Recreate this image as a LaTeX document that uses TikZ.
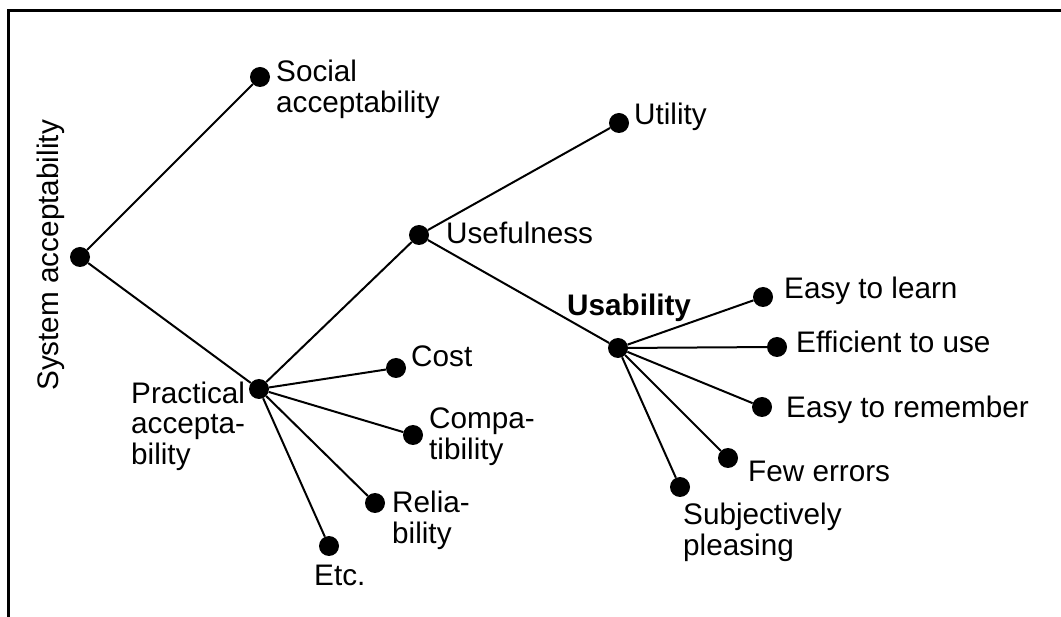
\documentclass[tikz,border=0pt]{standalone}
\usepackage{fontspec}
\setmainfont{Liberation Sans}
\begin{document}
\begin{tikzpicture}[x=1pt,y=-1pt,
  dot/.style={circle,fill=black,inner sep=0pt,minimum size=20pt},
  conn/.style={line width=2pt},
  lbl/.style={anchor=base west,inner sep=0pt,font=\fontsize{29.7}{30}\selectfont},
  frame/.style={line width=3pt}]
\useasboundingbox (0,0) rectangle (1061,617);
% frame (top and left edges)
\coordinate (f1) at (8.7,617);
\coordinate (f2) at (8.7,11);
\coordinate (f3) at (1061,11);
\draw[frame] (f1) -- (f2) -- (f3);
% dots
\node[dot] (root) at (80,257) {};
\node[dot] (social) at (260,77) {};
\node[dot] (practical) at (259,389) {};
\node[dot] (usefulness) at (419,235) {};
\node[dot] (utility) at (619,123) {};
\node[dot] (usability) at (618,348) {};
\node[dot] (learn) at (763,297) {};
\node[dot] (efficient) at (777,347) {};
\node[dot] (remember) at (762,407) {};
\node[dot] (errors) at (728,458) {};
\node[dot] (pleasing) at (680,487) {};
\node[dot] (cost) at (396,368) {};
\node[dot] (compat) at (413,435) {};
\node[dot] (reliab) at (375,503) {};
\node[dot] (etc) at (329,546) {};
% connectors
\draw[conn] (root) -- (social);
\draw[conn] (root) -- (practical);
\draw[conn] (practical) -- (usefulness);
\draw[conn] (usefulness) -- (utility);
\draw[conn] (usefulness) -- (usability);
\draw[conn] (usability) -- (learn);
\draw[conn] (usability) -- (efficient);
\draw[conn] (usability) -- (remember);
\draw[conn] (usability) -- (errors);
\draw[conn] (usability) -- (pleasing);
\draw[conn] (practical) -- (cost);
\draw[conn] (practical) -- (compat);
\draw[conn] (practical) -- (reliab);
\draw[conn] (practical) -- (etc);
% labels
\node[lbl,rotate=90] (tRoot) at (58,391) {System acceptability};
\node[lbl] (tSocial) at (276,82) {\begin{tabular}[t]{@{}l@{}}Social\\acceptability\end{tabular}};
\node[lbl] (tPractical) at (131,404) {\begin{tabular}[t]{@{}l@{}}Practical\\accepta-\\bility\end{tabular}};
\node[lbl] (tUsefulness) at (446,244) {Usefulness};
\node[lbl] (tUtility) at (634,125) {Utility};
\node[lbl,font=\fontsize{29.7}{30}\selectfont\bfseries] (tUsability) at (567,316) {Usability};
\node[lbl] (tLearn) at (784,299) {Easy to learn};
\node[lbl] (tEfficient) at (796,353) {Efficient to use};
\node[lbl] (tRemember) at (786,418) {Easy to remember};
\node[lbl] (tErrors) at (748,482) {Few errors};
\node[lbl] (tPleasing) at (683,525) {\begin{tabular}[t]{@{}l@{}}Subjectively\\pleasing\end{tabular}};
\node[lbl] (tCost) at (411,367) {Cost};
\node[lbl] (tCompat) at (429,429) {\begin{tabular}[t]{@{}l@{}}Compa-\\tibility\end{tabular}};
\node[lbl] (tReliab) at (392,513) {\begin{tabular}[t]{@{}l@{}}Relia-\\bility\end{tabular}};
\node[lbl] (tEtc) at (314,585) {Etc.};
\end{tikzpicture}
\end{document}
